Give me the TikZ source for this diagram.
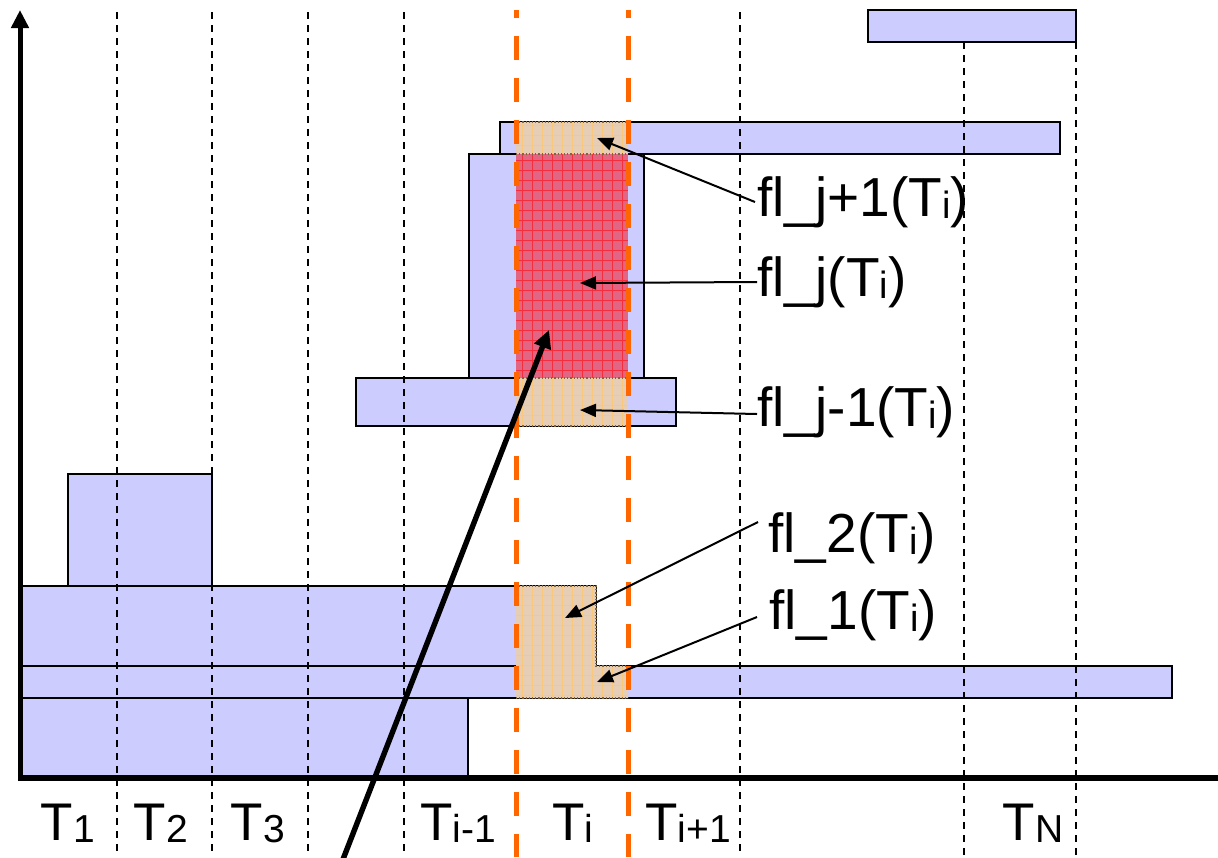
\documentclass[tikz,border=0pt]{standalone}
\usepackage{fontspec}
\setmainfont{Liberation Sans}
\usetikzlibrary{arrows.meta}
\definecolor{boxblue}{RGB}{204,204,255}
\definecolor{ovtan}{RGB}{230,205,182}
\definecolor{ovgrid}{RGB}{250,200,125}
\definecolor{redfill}{RGB}{224,102,132}
\definecolor{redgrid}{RGB}{245,45,60}
\definecolor{orline}{RGB}{255,102,0}
\definecolor{ovborder}{RGB}{130,100,60}
\newcommand{\lsub}[1]{\raisebox{-1pt}{\fontsize{19}{19}\selectfont #1}}
\newcommand{\tsub}[1]{\raisebox{-1pt}{\fontsize{19.5}{19.5}\selectfont #1}}
\begin{document}
\begin{tikzpicture}[x=0.5pt,y=-0.5pt,
  bluebox/.style={fill=boxblue,draw=black,line width=1pt},
  ovl/.style={fill=ovtan},
  ovedge/.style={draw=ovborder,line width=0.6pt,densely dotted},
  thingrid/.style={draw=ovgrid,line width=0.35pt},
  redlines/.style={draw=redgrid,line width=0.35pt},
  timeline/.style={draw=black,line width=1pt,dash pattern=on 3.5pt off 3pt},
  orangeline/.style={draw=orline,line width=2.5pt,dash pattern=on 12pt off 9pt,dash phase=8pt},
  lbl/.style={inner sep=0pt,font=\fontsize{27.5}{30}\selectfont},
  tlbl/.style={inner sep=0pt,anchor=base,font=\fontsize{26.5}{30}\selectfont},
  thinarrow/.style={draw=black,line width=1pt,-{Triangle[length=8pt,width=6.5pt]}},
  thickarrow/.style={draw=black,line width=2.7pt,-{Triangle[length=9pt,width=8.5pt]}}
]
\useasboundingbox (0,0) rectangle (1218,857);
\fill[white] (0,0) rectangle (1218,857);

% blue boxes
\path[bluebox] (20,586) rectangle (596,666);
\path[bluebox] (20,666) rectangle (1172,698);
\path[bluebox] (20,698) rectangle (468,776);
\path[bluebox] (68,474) rectangle (212,586);
\path[bluebox] (356,378) rectangle (676,426);
\path[bluebox] (469,154) rectangle (644,378);
\path[bluebox] (500,122) rectangle (1060,154);

% black dashed time lines
\foreach \xx in {117,212,308,404,740}
  \path[timeline] (\xx,12) -- (\xx,857);
\foreach \xx in {964,1076}
  \path[timeline] (\xx,42) -- (\xx,857);
\path[bluebox] (868,10) rectangle (1076,42);

% red region fl_j
\fill[redfill] (516,154) rectangle (628,378);
\begin{scope}
  \clip (516,154) rectangle (628,378);
  \foreach \xx in {522,532,...,622} \path[redlines] (\xx,154) -- (\xx,378);
  \foreach \yy in {160,170,...,375} \path[redlines] (516,\yy) -- (628,\yy);
\end{scope}

% tan regions
\path[ovl] (516,122) rectangle (628,154);
\path[ovl] (516,378) rectangle (628,426);
\path[ovl] (516,586) -- (596,586) -- (596,666) -- (628,666) -- (628,698) -- (516,698) -- cycle;
\begin{scope}
  \clip (516,122) rectangle (628,154) (516,378) rectangle (628,426)
        (516,586) -- (596,586) -- (596,666) -- (628,666) -- (628,698) -- (516,698) -- cycle;
  \foreach \xx in {522,532,...,622} \path[thingrid] (\xx,110) -- (\xx,700);
  \foreach \yy in {125,135,...,695} \path[thingrid] (510,\yy) -- (630,\yy);
\end{scope}
\path[ovedge] (516,122) -- (628,122);
\path[ovedge] (516,154) -- (628,154);
\path[ovedge] (516,378) -- (628,378);
\path[ovedge] (516,426) -- (628,426);
\path[ovedge] (516,586) -- (596,586) -- (596,666) -- (628,666);
\path[ovedge] (516,698) -- (628,698);

% orange dashed lines
\path[orangeline] (516,10) -- (516,857);
\path[orangeline] (628,10) -- (628,857);

% axes
\path[draw=black,line width=3pt] (20,778) -- (1218,778);
\path[draw=black,line width=2.5pt,-{Triangle[length=9pt,width=8.5pt]}] (20,781) -- (20,10);

% labels
\node[lbl,anchor=west] (lj1) at (757,202) {fl\_j+1(T\lsub{i})};
\node[lbl,anchor=west] (lj)  at (757,282) {fl\_j(T\lsub{i})};
\node[lbl,anchor=west] (ljm) at (757,412) {fl\_j-1(T\lsub{i})};
\node[lbl,anchor=west] (l2)  at (768,538) {fl\_2(T\lsub{i})};
\node[lbl,anchor=west] (l1)  at (769,615) {fl\_1(T\lsub{i})};

\coordinate (tj1) at (597,138);
\coordinate (tj)  at (580,283);
\coordinate (tjm) at (580,410);
\coordinate (t2)  at (565,618);
\coordinate (t1)  at (597,682);

\path[thinarrow] ([xshift=-1pt]lj1.west) -- (tj1);
\path[thinarrow] (lj.west) -- (tj);
\path[thinarrow] ([yshift=-1pt]ljm.west) -- (tjm);
\path[thinarrow] ([xshift=-5pt,yshift=8pt]l2.west) -- (t2);
\path[thinarrow] ([xshift=-6pt,yshift=-1pt]l1.west) -- (t1);

% thick arrow
\coordinate (thickstart) at (340,867);
\coordinate (thicktip) at (549,330);
\path[thickarrow] (thickstart) -- (thicktip);

% time labels
\node[tlbl] (T1)  at (68,840)  {T\tsub{1}};
\node[tlbl] (T2)  at (161,840) {T\tsub{2}};
\node[tlbl] (T3)  at (258,840) {T\tsub{3}};
\node[tlbl] (Tim) at (458,840) {T\tsub{i-1}};
\node[tlbl] (Ti)  at (573,840) {T\tsub{i}};
\node[tlbl] (Tip) at (688,840) {T\tsub{i+1}};
\node[tlbl] (TN)  at (1033,840) {T\tsub{N}};
\end{tikzpicture}
\end{document}
